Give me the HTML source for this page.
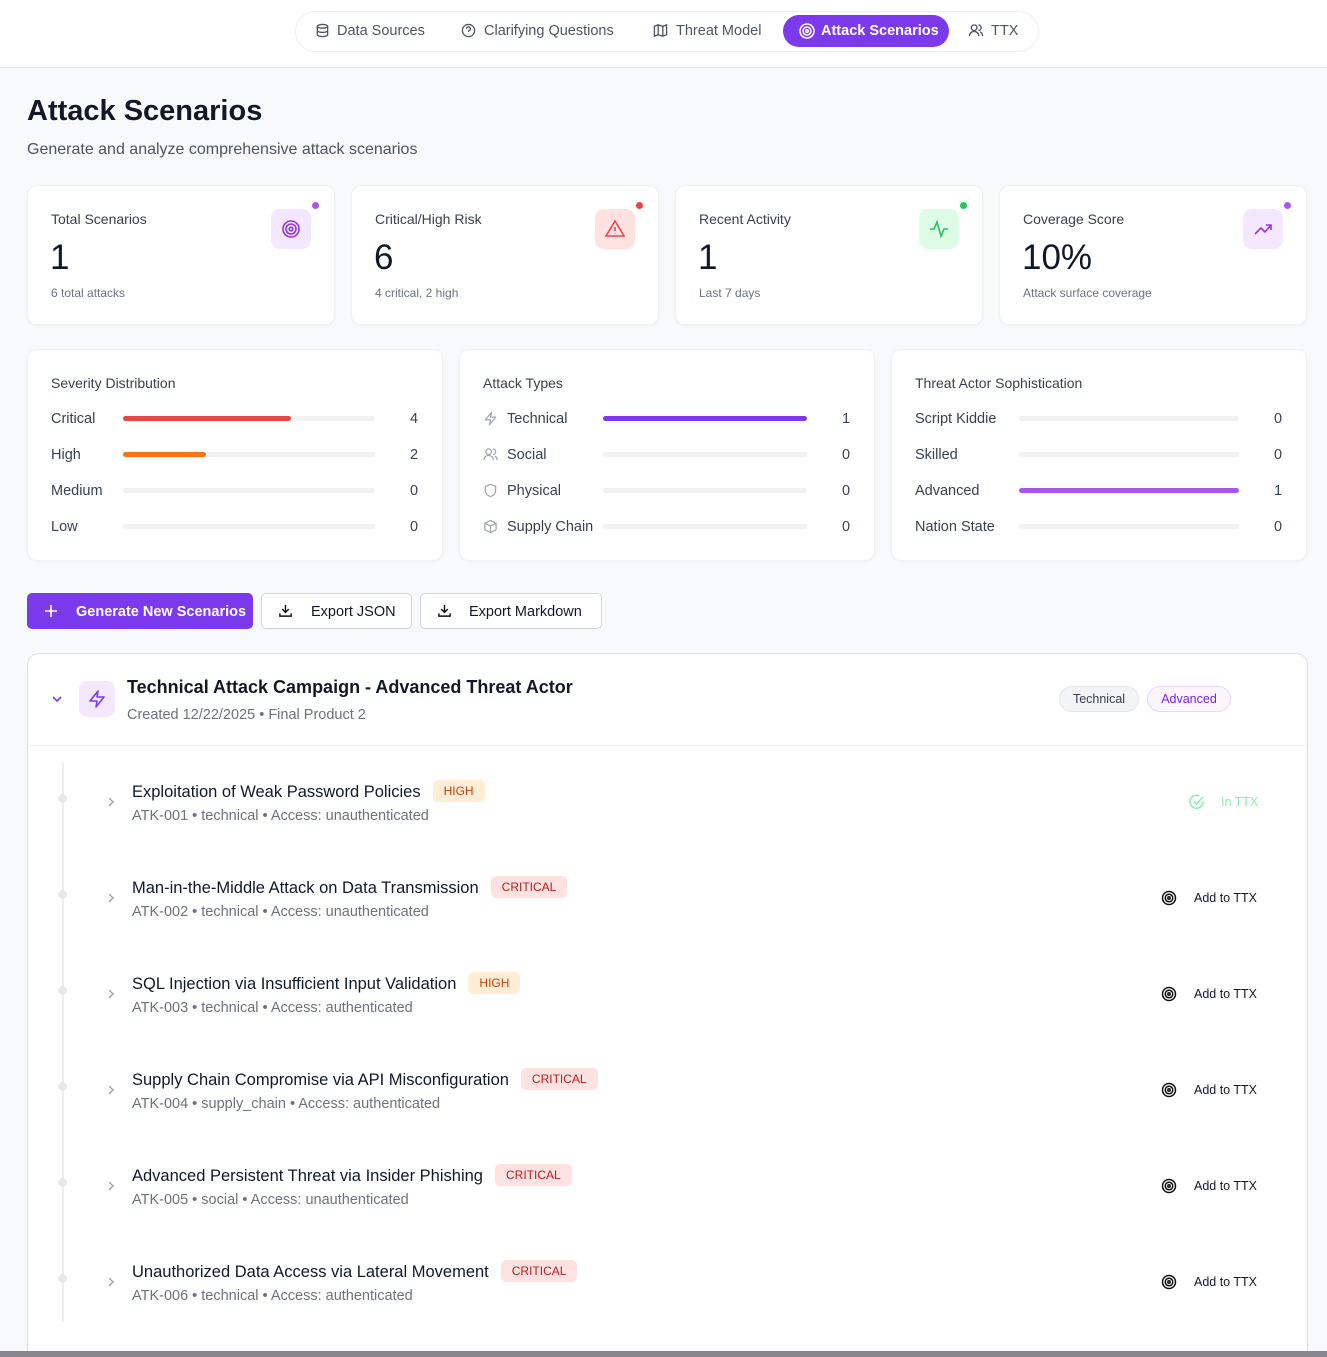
<!DOCTYPE html>
<html><head><meta charset="utf-8">
<style>
*{box-sizing:border-box;margin:0;padding:0}
html,body{width:1327px;height:1357px;overflow:hidden}
body{background:#f8f9fb;font-family:"Liberation Sans",sans-serif;color:#111827;position:relative}
.a{position:absolute}
.hdr{left:0;top:0;width:1327px;height:68px;background:#fff;border-bottom:1px solid #e5e7eb}
.nav{left:295px;top:11px;width:744px;height:41px;border:1px solid #eceef1;border-radius:21px;background:#fff}
.ni{position:absolute;top:23px;font-size:14.5px;color:#4b5563;white-space:nowrap;line-height:16px}
.act{left:783px;top:15px;width:166px;height:32px;background:#7c3aed;border-radius:16px;color:#fff;font-weight:bold;font-size:14.5px;padding:8px 0 0 38px;line-height:16px}
.card{background:#fff;border-radius:10px;box-shadow:0 1px 2px rgba(0,0,0,.04);border:1px solid #f0f1f3}
.sl{font-size:14px;color:#374151}
.big{font-size:35px;color:#111827}
.sm{font-size:12px;color:#6b7280}
.ic{width:40px;height:40px;border-radius:9px}
.dot{width:7px;height:7px;border-radius:50%}
.row{font-size:14.5px;color:#374151;line-height:16px}
.trk{height:5px;border-radius:3px;background:#f1f2f4}
.btn{height:36px;border-radius:5px;font-size:14.5px;background:#fff;border:1px solid #d1d5db;color:#111827;line-height:16px}
.badge{display:inline-block;font-size:12px;padding:4px 11px;border-radius:5px;margin-left:12px;vertical-align:2px}
.hi{background:#ffedd5;color:#c2410c}
.cr{background:#fee2e2;color:#b91c1c}
.t{font-size:16.5px;color:#111827;white-space:nowrap}
.m{font-size:14.5px;color:#6b7280;white-space:nowrap}
</style></head><body>
<div class="a hdr"></div>
<div class="a nav"></div>
<svg class="a" style="left:315px;top:23px" width="15" height="15" viewBox="0 0 16 16" fill="none" stroke="#4b5563" stroke-width="1.4"><ellipse cx="8" cy="3.5" rx="5.5" ry="2"/><path d="M2.5 3.5v9c0 1.1 2.5 2 5.5 2s5.5-.9 5.5-2v-9M2.5 8c0 1.1 2.5 2 5.5 2s5.5-.9 5.5-2"/></svg>
<div class="ni" style="left:337px">Data Sources</div>
<svg class="a" style="left:461px;top:23px" width="15" height="15" viewBox="0 0 16 16" fill="none" stroke="#4b5563" stroke-width="1.4"><circle cx="8" cy="8" r="6.5"/><path d="M6 6.2a2 2 0 1 1 2.5 1.9c-.4.2-.5.5-.5 1v.4M8 11.5v.3"/></svg>
<div class="ni" style="left:484px">Clarifying Questions</div>
<svg class="a" style="left:653px;top:23px" width="15" height="15" viewBox="0 0 16 16" fill="none" stroke="#4b5563" stroke-width="1.4"><path d="M1.5 3.5l4-1.5 5 1.5 4-1.5v10.5l-4 1.5-5-1.5-4 1.5zM5.5 2v10.5M10.5 3.5V14"/></svg>
<div class="ni" style="left:676px">Threat Model</div>
<svg class="a" style="left:968px;top:23px" width="16" height="15" viewBox="0 0 16 16" fill="none" stroke="#4b5563" stroke-width="1.4"><circle cx="6" cy="5" r="3"/><path d="M1 14c0-3 2.2-5 5-5s5 2 5 5M10.5 2a3 3 0 0 1 0 6M12.5 9.5c1.5.7 2.5 2.3 2.5 4.5"/></svg>
<div class="ni" style="left:991px">TTX</div>
<div class="a act">Attack Scenarios</div>
<svg class="a" style="left:798px;top:22px" width="18" height="18" viewBox="0 0 18 18" fill="none" stroke="#fff" stroke-width="1.5"><circle cx="9" cy="9" r="7"/><circle cx="9" cy="9" r="4"/><circle cx="9" cy="9" r="1.3"/></svg>

<div class="a" style="left:27px;top:95px;font-size:29px;font-weight:bold">Attack Scenarios</div>
<div class="a" style="left:27px;top:141px;font-size:16px;color:#4b5563">Generate and analyze comprehensive attack scenarios</div>

<div class="a card" style="left:27px;top:185px;width:308px;height:140px"></div>
<div class="a card" style="left:351px;top:185px;width:308px;height:140px"></div>
<div class="a card" style="left:675px;top:185px;width:308px;height:140px"></div>
<div class="a card" style="left:999px;top:185px;width:308px;height:140px"></div>
<div class="a sl" style="left:51px;top:211px">Total Scenarios</div>
<div class="a sl" style="left:375px;top:211px">Critical/High Risk</div>
<div class="a sl" style="left:699px;top:211px">Recent Activity</div>
<div class="a sl" style="left:1023px;top:211px">Coverage Score</div>
<div class="a big" style="left:50px;top:238px">1</div>
<div class="a big" style="left:374px;top:238px">6</div>
<div class="a big" style="left:698px;top:238px">1</div>
<div class="a big" style="left:1022px;top:238px">10%</div>
<div class="a sm" style="left:51px;top:286px">6 total attacks</div>
<div class="a sm" style="left:375px;top:286px">4 critical, 2 high</div>
<div class="a sm" style="left:699px;top:286px">Last 7 days</div>
<div class="a sm" style="left:1023px;top:286px">Attack surface coverage</div>
<div class="a ic" style="left:271px;top:209px;background:#f3e8ff"></div>
<div class="a ic" style="left:595px;top:209px;background:#fee2e2"></div>
<div class="a ic" style="left:919px;top:209px;background:#dcfce7"></div>
<div class="a ic" style="left:1243px;top:209px;background:#f3e8ff"></div>
<svg class="a" style="left:281px;top:219px" width="20" height="20" viewBox="0 0 20 20" fill="none" stroke="#9333ea" stroke-width="1.6"><circle cx="10" cy="10" r="8"/><circle cx="10" cy="10" r="5"/><circle cx="10" cy="10" r="1.8"/></svg>
<svg class="a" style="left:605px;top:219px" width="20" height="20" viewBox="0 0 20 20" fill="none" stroke="#ef4444" stroke-width="1.6"><path d="M10 2 L19 17 H1 Z"/><path d="M10 8v4M10 14.5v.5"/></svg>
<svg class="a" style="left:929px;top:219px" width="20" height="20" viewBox="0 0 20 20" fill="none" stroke="#22c55e" stroke-width="1.6"><path d="M1 10h4l3-7 4 14 3-7h4"/></svg>
<svg class="a" style="left:1253px;top:219px" width="20" height="20" viewBox="0 0 20 20" fill="none" stroke="#9333ea" stroke-width="1.6"><path d="M2 15l6-6 4 4 6-7M13 6h5v5"/></svg>
<div class="a dot" style="left:312px;top:202px;background:#a855f7"></div>
<div class="a dot" style="left:636px;top:202px;background:#ef4444"></div>
<div class="a dot" style="left:960px;top:202px;background:#22c55e"></div>
<div class="a dot" style="left:1284px;top:202px;background:#a855f7"></div>

<div class="a card" style="left:27px;top:349px;width:416px;height:212px"></div>
<div class="a card" style="left:459px;top:349px;width:416px;height:212px"></div>
<div class="a card" style="left:891px;top:349px;width:416px;height:212px"></div>
<div class="a sl" style="left:51px;top:375px">Severity Distribution</div>
<div class="a sl" style="left:483px;top:375px">Attack Types</div>
<div class="a sl" style="left:915px;top:375px">Threat Actor Sophistication</div>

<div class="a row" style="left:51px;top:411px">Critical</div>
<div class="a row" style="left:51px;top:447px">High</div>
<div class="a row" style="left:51px;top:483px">Medium</div>
<div class="a row" style="left:51px;top:519px">Low</div>
<div class="a trk" style="left:123px;top:416px;width:252px"></div>
<div class="a trk" style="left:123px;top:416px;width:168px;background:#ef4444"></div>
<div class="a trk" style="left:123px;top:452px;width:252px"></div>
<div class="a trk" style="left:123px;top:452px;width:83px;background:#f97316"></div>
<div class="a trk" style="left:123px;top:488px;width:252px"></div>
<div class="a trk" style="left:123px;top:524px;width:252px"></div>
<div class="a row" style="left:410px;top:411px">4</div>
<div class="a row" style="left:410px;top:447px">2</div>
<div class="a row" style="left:410px;top:483px">0</div>
<div class="a row" style="left:410px;top:519px">0</div>

<svg class="a" style="left:483px;top:411px" width="15" height="15" viewBox="0 0 16 16" fill="none" stroke="#9ca3af" stroke-width="1.3" stroke-linejoin="round"><path d="M9 1.5L2.5 9.5h5.5l-1 5 6.5-8h-5.5z"/></svg>
<svg class="a" style="left:483px;top:447px" width="15" height="15" viewBox="0 0 16 16" fill="none" stroke="#9ca3af" stroke-width="1.3"><circle cx="6" cy="5" r="3"/><path d="M1 14c0-3 2.2-5 5-5s5 2 5 5M10.5 2a3 3 0 0 1 0 6M12.5 9.5c1.5.7 2.5 2.3 2.5 4.5"/></svg>
<svg class="a" style="left:483px;top:483px" width="15" height="15" viewBox="0 0 16 16" fill="none" stroke="#9ca3af" stroke-width="1.3"><path d="M8 1.5l5.5 2v4.5c0 3.5-2.5 5.5-5.5 6.5-3-1-5.5-3-5.5-6.5V3.5z"/></svg>
<svg class="a" style="left:483px;top:519px" width="15" height="15" viewBox="0 0 16 16" fill="none" stroke="#9ca3af" stroke-width="1.3"><path d="M8 1.5l6 3v7l-6 3-6-3v-7zM2 4.5l6 3 6-3M8 7.5v7"/></svg>
<div class="a row" style="left:507px;top:411px">Technical</div>
<div class="a row" style="left:507px;top:447px">Social</div>
<div class="a row" style="left:507px;top:483px">Physical</div>
<div class="a row" style="left:507px;top:519px">Supply Chain</div>
<div class="a trk" style="left:603px;top:416px;width:204px;background:#7c3aed"></div>
<div class="a trk" style="left:603px;top:452px;width:204px"></div>
<div class="a trk" style="left:603px;top:488px;width:204px"></div>
<div class="a trk" style="left:603px;top:524px;width:204px"></div>
<div class="a row" style="left:842px;top:411px">1</div>
<div class="a row" style="left:842px;top:447px">0</div>
<div class="a row" style="left:842px;top:483px">0</div>
<div class="a row" style="left:842px;top:519px">0</div>

<div class="a row" style="left:915px;top:411px">Script Kiddie</div>
<div class="a row" style="left:915px;top:447px">Skilled</div>
<div class="a row" style="left:915px;top:483px">Advanced</div>
<div class="a row" style="left:915px;top:519px">Nation State</div>
<div class="a trk" style="left:1019px;top:416px;width:220px"></div>
<div class="a trk" style="left:1019px;top:452px;width:220px"></div>
<div class="a trk" style="left:1019px;top:488px;width:220px;background:#a855f7"></div>
<div class="a trk" style="left:1019px;top:524px;width:220px"></div>
<div class="a row" style="left:1274px;top:411px">0</div>
<div class="a row" style="left:1274px;top:447px">0</div>
<div class="a row" style="left:1274px;top:483px">1</div>
<div class="a row" style="left:1274px;top:519px">0</div>

<div class="a btn" style="left:27px;top:593px;width:226px;background:#7c3aed;border-color:#7c3aed;color:#fff;font-weight:bold;padding:10px 0 0 48px">Generate New Scenarios</div>
<svg class="a" style="left:44px;top:604px" width="14" height="14" viewBox="0 0 14 14" stroke="#fff" stroke-width="1.6"><path d="M7 1v12M1 7h12"/></svg>
<div class="a btn" style="left:261px;top:593px;width:151px;padding:10px 0 0 49px">Export JSON</div>
<div class="a btn" style="left:420px;top:593px;width:182px;padding:10px 0 0 48px">Export Markdown</div>
<svg class="a" style="left:278px;top:603px" width="15" height="15" viewBox="0 0 16 16" fill="none" stroke="#111" stroke-width="1.5"><path d="M8 2v8M4.5 6.5L8 10l3.5-3.5M2 11v3h12v-3"/></svg>
<svg class="a" style="left:437px;top:603px" width="15" height="15" viewBox="0 0 16 16" fill="none" stroke="#111" stroke-width="1.5"><path d="M8 2v8M4.5 6.5L8 10l3.5-3.5M2 11v3h12v-3"/></svg>

<div class="a" style="left:27px;top:653px;width:1281px;height:710px;background:#fff;border:1px solid #ddd6fe;border-radius:12px"></div>
<div class="a" style="left:28px;top:745px;width:1279px;height:1px;background:#f0f1f3"></div>
<svg class="a" style="left:50px;top:692px" width="14" height="14" viewBox="0 0 14 14" fill="none" stroke="#7c3aed" stroke-width="1.6"><path d="M3 5l4 4 4-4"/></svg>
<div class="a" style="left:79px;top:681px;width:36px;height:36px;border-radius:8px;background:#f3e8ff"></div>
<svg class="a" style="left:87px;top:689px" width="20" height="20" viewBox="0 0 20 20" fill="none" stroke="#7c3aed" stroke-width="1.6" stroke-linejoin="round"><path d="M11 2L3 12h7l-1 6 8-10h-7z"/></svg>
<div class="a" style="left:127px;top:677px;font-size:18px;font-weight:bold;color:#111827">Technical Attack Campaign - Advanced Threat Actor</div>
<div class="a m" style="left:127px;top:707px">Created 12/22/2025 • Final Product 2</div>
<div class="a" style="left:1059px;top:686px;width:80px;height:26px;border-radius:13px;background:#f3f4f6;border:1px solid #e5e7eb;font-size:12.5px;color:#374151;text-align:center;padding-top:5px">Technical</div>
<div class="a" style="left:1147px;top:686px;width:84px;height:26px;border-radius:13px;background:#faf5ff;border:1px solid #e9d5ff;font-size:12.5px;color:#7e22ce;text-align:center;padding-top:5px">Advanced</div>

<div class="a" style="left:62px;top:762px;width:2px;height:560px;background:#eceef1"></div>

<div class="a" style="left:58px;top:794px;width:9px;height:9px;border-radius:50%;background:#e5e7eb"></div>
<div class="a" style="left:58px;top:890px;width:9px;height:9px;border-radius:50%;background:#e5e7eb"></div>
<div class="a" style="left:58px;top:986px;width:9px;height:9px;border-radius:50%;background:#e5e7eb"></div>
<div class="a" style="left:58px;top:1082px;width:9px;height:9px;border-radius:50%;background:#e5e7eb"></div>
<div class="a" style="left:58px;top:1178px;width:9px;height:9px;border-radius:50%;background:#e5e7eb"></div>
<div class="a" style="left:58px;top:1274px;width:9px;height:9px;border-radius:50%;background:#e5e7eb"></div>

<svg class="a" style="left:106px;top:795px" width="10" height="14" viewBox="0 0 10 14" fill="none" stroke="#9ca3af" stroke-width="1.4"><path d="M3 3l4 4-4 4"/></svg>
<svg class="a" style="left:106px;top:891px" width="10" height="14" viewBox="0 0 10 14" fill="none" stroke="#9ca3af" stroke-width="1.4"><path d="M3 3l4 4-4 4"/></svg>
<svg class="a" style="left:106px;top:987px" width="10" height="14" viewBox="0 0 10 14" fill="none" stroke="#9ca3af" stroke-width="1.4"><path d="M3 3l4 4-4 4"/></svg>
<svg class="a" style="left:106px;top:1083px" width="10" height="14" viewBox="0 0 10 14" fill="none" stroke="#9ca3af" stroke-width="1.4"><path d="M3 3l4 4-4 4"/></svg>
<svg class="a" style="left:106px;top:1179px" width="10" height="14" viewBox="0 0 10 14" fill="none" stroke="#9ca3af" stroke-width="1.4"><path d="M3 3l4 4-4 4"/></svg>
<svg class="a" style="left:106px;top:1275px" width="10" height="14" viewBox="0 0 10 14" fill="none" stroke="#9ca3af" stroke-width="1.4"><path d="M3 3l4 4-4 4"/></svg>

<div class="a t" style="left:132px;top:780px">Exploitation of Weak Password Policies<span class="badge hi">HIGH</span></div>
<div class="a m" style="left:132px;top:808px">ATK-001 • technical • Access: unauthenticated</div>
<div class="a t" style="left:132px;top:876px">Man-in-the-Middle Attack on Data Transmission<span class="badge cr">CRITICAL</span></div>
<div class="a m" style="left:132px;top:904px">ATK-002 • technical • Access: unauthenticated</div>
<div class="a t" style="left:132px;top:972px">SQL Injection via Insufficient Input Validation<span class="badge hi">HIGH</span></div>
<div class="a m" style="left:132px;top:1000px">ATK-003 • technical • Access: authenticated</div>
<div class="a t" style="left:132px;top:1068px">Supply Chain Compromise via API Misconfiguration<span class="badge cr">CRITICAL</span></div>
<div class="a m" style="left:132px;top:1096px">ATK-004 • supply_chain • Access: authenticated</div>
<div class="a t" style="left:132px;top:1164px">Advanced Persistent Threat via Insider Phishing<span class="badge cr">CRITICAL</span></div>
<div class="a m" style="left:132px;top:1192px">ATK-005 • social • Access: unauthenticated</div>
<div class="a t" style="left:132px;top:1260px">Unauthorized Data Access via Lateral Movement<span class="badge cr">CRITICAL</span></div>
<div class="a m" style="left:132px;top:1288px">ATK-006 • technical • Access: authenticated</div>

<svg class="a" style="left:1189px;top:794px" width="16" height="16" viewBox="0 0 16 16" fill="none" stroke="#86efac" stroke-width="1.5"><path d="M14 7.5A6.5 6.5 0 1 1 10.5 2"/><path d="M5 7.5l2.5 2.5L14 3"/></svg>
<div class="a" style="left:1221px;top:795px;font-size:12.5px;color:#86efac">In TTX</div>
<svg class="a" style="left:1161px;top:890px" width="16" height="16" viewBox="0 0 16 16" fill="none" stroke="#111" stroke-width="1.5"><circle cx="8" cy="8" r="6.5"/><circle cx="8" cy="8" r="3.8"/><circle cx="8" cy="8" r="1.2"/></svg>
<svg class="a" style="left:1161px;top:986px" width="16" height="16" viewBox="0 0 16 16" fill="none" stroke="#111" stroke-width="1.5"><circle cx="8" cy="8" r="6.5"/><circle cx="8" cy="8" r="3.8"/><circle cx="8" cy="8" r="1.2"/></svg>
<svg class="a" style="left:1161px;top:1082px" width="16" height="16" viewBox="0 0 16 16" fill="none" stroke="#111" stroke-width="1.5"><circle cx="8" cy="8" r="6.5"/><circle cx="8" cy="8" r="3.8"/><circle cx="8" cy="8" r="1.2"/></svg>
<svg class="a" style="left:1161px;top:1178px" width="16" height="16" viewBox="0 0 16 16" fill="none" stroke="#111" stroke-width="1.5"><circle cx="8" cy="8" r="6.5"/><circle cx="8" cy="8" r="3.8"/><circle cx="8" cy="8" r="1.2"/></svg>
<svg class="a" style="left:1161px;top:1274px" width="16" height="16" viewBox="0 0 16 16" fill="none" stroke="#111" stroke-width="1.5"><circle cx="8" cy="8" r="6.5"/><circle cx="8" cy="8" r="3.8"/><circle cx="8" cy="8" r="1.2"/></svg>
<div class="a" style="left:1194px;top:891px;font-size:12.5px">Add to TTX</div>
<div class="a" style="left:1194px;top:987px;font-size:12.5px">Add to TTX</div>
<div class="a" style="left:1194px;top:1083px;font-size:12.5px">Add to TTX</div>
<div class="a" style="left:1194px;top:1179px;font-size:12.5px">Add to TTX</div>
<div class="a" style="left:1194px;top:1275px;font-size:12.5px">Add to TTX</div>

<div class="a" style="left:0;top:1351px;width:1327px;height:6px;background:#8a8490"></div>
</body></html>
